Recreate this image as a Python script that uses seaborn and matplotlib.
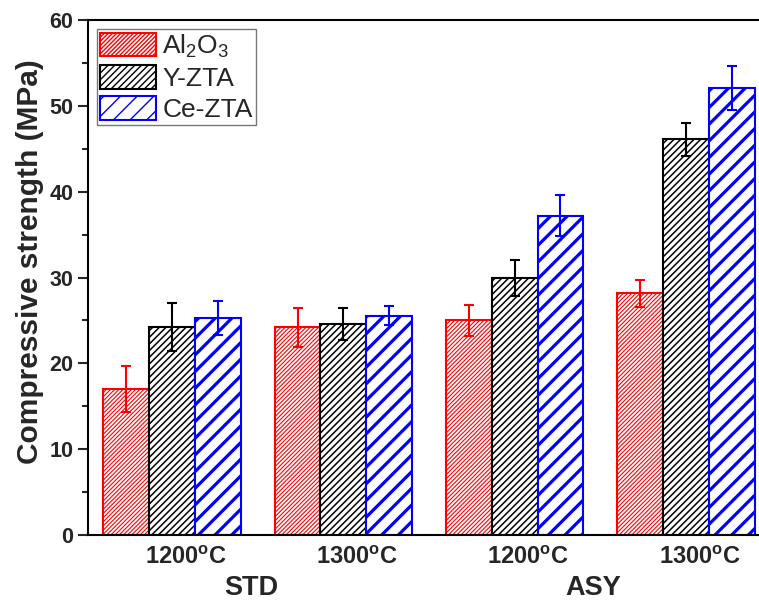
import numpy as np
import pandas as pd
import matplotlib
matplotlib.use('Agg')
import matplotlib.pyplot as plt
from matplotlib.patches import Patch
import seaborn as sns

# 데이터
groups = ['STD-1200', 'STD-1300', 'ASY-1200', 'ASY-1300']
tick_labels = [r'1200$^{\mathbf{o}}$C', r'1300$^{\mathbf{o}}$C',
               r'1200$^{\mathbf{o}}$C', r'1300$^{\mathbf{o}}$C']
series_names = ['Al2O3', 'Y-ZTA', 'Ce-ZTA']
legend_labels = [r'Al$_2$O$_3$', 'Y-ZTA', 'Ce-ZTA']

al2o3 = [17.0, 24.2, 25.0, 28.15]
al2o3_err = [2.7, 2.3, 1.8, 1.55]
yzta = [24.2, 24.6, 29.9, 46.1]
yzta_err = [2.8, 1.9, 2.1, 1.9]
cezta = [25.3, 25.55, 37.2, 52.1]
cezta_err = [1.95, 1.1, 2.4, 2.55]

colors = ['#ff0000', '#000000', '#0000ff']
hatches = ['////////', '/////', '//']
hatch_lw = [0.8, 1.1, 2.3]

df = pd.DataFrame({
    'group': groups * 3,
    'series': sum([[s] * 4 for s in series_names], []),
    'value': al2o3 + yzta + cezta,
})
errs = [al2o3_err, yzta_err, cezta_err]

sns.set_theme(style='ticks')
plt.rcParams['font.family'] = ['Liberation Sans', 'DejaVu Sans']
plt.rcParams['mathtext.fontset'] = 'custom'
plt.rcParams['mathtext.rm'] = 'Liberation Sans'
plt.rcParams['mathtext.bf'] = 'Liberation Sans:bold'

fig = plt.figure(figsize=(7.59, 6.03), dpi=100)
ax = fig.add_axes([88 / 759, 68 / 603, 682 / 759, 515 / 603])

sns.barplot(data=df, x='group', y='value', hue='series', order=groups,
            hue_order=series_names, palette=['white'] * 3, width=0.8,
            errorbar=None, legend=False, ax=ax)

# 해칭 / 테두리 / 에러바
bars = ax.patches
for i, name in enumerate(series_names):
    for j in range(len(groups)):
        p = bars[i * len(groups) + j]
        p.set_facecolor('white')
        p.set_edgecolor(colors[i])
        p.set_hatch(hatches[i])
        p.set_linewidth(1.5)
        if hasattr(p, 'set_hatch_linewidth'):
            p.set_hatch_linewidth(hatch_lw[i])
        cx = p.get_x() + p.get_width() / 2
        ax.errorbar(cx, p.get_height(), yerr=errs[i][j], color=colors[i],
                    capsize=3.6, capthick=1.5, elinewidth=1.5, zorder=3)

ax.set_xlim(-0.49, 3.49)
ax.set_ylim(0, 60)
ax.set_yticks(np.arange(0, 61, 10))
ax.set_yticks(np.arange(5, 60, 10), minor=True)
# 원본처럼 라벨이 그룹 중심보다 약간 오른쪽
ax.set_xticks(np.arange(4) + 0.08)
ax.set_xticklabels(tick_labels, fontsize=17, fontweight='bold')
for lab in ax.get_yticklabels():
    lab.set_fontweight('bold')
ax.tick_params(axis='y', which='major', direction='out', length=7, width=1.5, labelsize=15.5)
ax.tick_params(axis='y', which='minor', direction='out', length=4, width=1.5)
ax.tick_params(axis='x', length=0, pad=8)
ax.set_xlabel('')
ax.set_ylabel('Compressive strength (MPa)', fontsize=21.5, fontweight='bold')
ax.yaxis.set_label_coords(-0.064, 0.53)

for s in ['left', 'bottom', 'top', 'right']:
    ax.spines[s].set_linewidth(1.5)
    ax.spines[s].set_color('black')

# 그룹 라벨
ax.text(0.465, -0.103, 'STD', transform=ax.get_xaxis_transform(), ha='center', va='center',
        fontsize=19.5, fontweight='bold')
ax.text(2.46, -0.103, 'ASY', transform=ax.get_xaxis_transform(), ha='center', va='center',
        fontsize=19.5, fontweight='bold')

handles = []
for i in range(3):
    h = Patch(facecolor='white', edgecolor=colors[i], hatch=hatches[i], linewidth=1.5)
    if hasattr(h, 'set_hatch_linewidth'):
        h.set_hatch_linewidth(hatch_lw[i])
    handles.append(h)
leg = ax.legend(handles, legend_labels, loc='upper left', fontsize=19,
                frameon=True, fancybox=False, edgecolor='#555555',
                handlelength=2.1, handleheight=1.0, handletextpad=0.25,
                labelspacing=0.2, borderpad=0.12, borderaxespad=0.35)
leg.get_frame().set_linewidth(1.0)

fig.savefig('out.png', dpi=100)
